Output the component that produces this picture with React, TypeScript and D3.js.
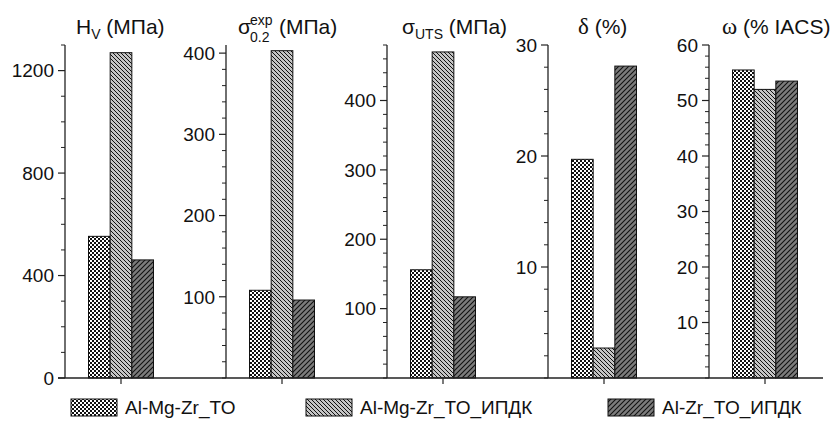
import React from 'react';
import * as d3 from 'd3';

// series (legend order)
const series = ['Al-Mg-Zr_TO', 'Al-Mg-Zr_TO_ИПДК', 'Al-Zr_TO_ИПДК'];

// values per panel
const hvValues = [553, 1270, 461];
const sigma02Values = [108, 403, 96];
const sigmaUtsValues = [156, 470, 117];
const deltaValues = [19.7, 2.7, 28.1];
const omegaValues = [55.5, 52.0, 53.5];

// tick labels per panel
const hvTicks = [0, 400, 800, 1200];
const sigma02Ticks = [100, 200, 300, 400];
const sigmaUtsTicks = [100, 200, 300, 400];
const deltaTicks = [10, 20, 30];
const omegaTicks = [10, 20, 30, 40, 50, 60];

const panels = [
  { values: hvValues, ticks: hvTicks, max: 1300, minor: 100 },
  { values: sigma02Values, ticks: sigma02Ticks, max: 410, minor: 20 },
  { values: sigmaUtsValues, ticks: sigmaUtsTicks, max: 480, minor: 20 },
  { values: deltaValues, ticks: deltaTicks, max: 30, minor: 2 },
  { values: omegaValues, ticks: omegaTicks, max: 60, minor: 2 },
];

const W = 836;
const H = 428;
const top = 45;
const bottom = 378;
const firstAxis = 65;
const panelStep = 161;
const barOffset = 56; // axis -> group centre
const groupWidth = 65;
const font = 'Arial, "Liberation Sans", sans-serif';
const serif = '"Times New Roman", "Liberation Serif", serif';
const fs = 19; // ticks + legend
const tfs = 21; // titles
const sub = 14;

const fills = ['url(#pat-check)', 'url(#pat-back)', 'url(#pat-fwd)'];

const Panel = ({ p, i }: { p: typeof panels[0]; i: number }) => {
  const ax = firstAxis + i * panelStep;
  const cx = ax + barOffset;
  const y = d3.scaleLinear().domain([0, p.max]).range([bottom, top]);
  const x = d3
    .scaleBand<string>()
    .domain(series)
    .range([cx - groupWidth / 2, cx + groupWidth / 2])
    .padding(0);
  const minors = d3.range(0, p.max + 1e-9, p.minor).filter(v => !p.ticks.includes(v));
  return (
    <g>
      {p.values.map((v, k) => (
        <rect
          key={k}
          x={x(series[k])}
          y={y(v)}
          width={x.bandwidth()}
          height={bottom - y(v)}
          fill={fills[k]}
          stroke="#111"
          strokeWidth={1}
        />
      ))}
      <line x1={ax} x2={ax} y1={top} y2={bottom} stroke="#222" strokeWidth={1.3} />
      {minors.map(v => (
        <line key={'m' + v} x1={ax - 4} x2={ax} y1={y(v)} y2={y(v)} stroke="#222" strokeWidth={1} />
      ))}
      {p.ticks.map(v => (
        <g key={'t' + v}>
          <line x1={ax - 7} x2={ax} y1={y(v)} y2={y(v)} stroke="#222" strokeWidth={1.2} />
          <text
            x={ax - 11}
            y={y(v)}
            dy="0.36em"
            textAnchor="end"
            fontSize={fs}
            fontFamily={font}
            fill="#111"
          >
            {v}
          </text>
        </g>
      ))}
      <line x1={cx} x2={cx} y1={bottom} y2={bottom + 6} stroke="#222" strokeWidth={1.2} />
    </g>
  );
};

export default function App() {
  const tf = { fontFamily: font, fontSize: tfs, fill: '#111' };
  const lf = { fontFamily: font, fontSize: fs, fill: '#111' };
  return (
    <svg
      width={W}
      height={H}
      viewBox={`0 0 ${W} ${H}`}
      style={{ position: 'absolute', left: 0, top: 0, background: '#fff' }}
    >
      <defs>
        <pattern id="pat-check" width={4} height={4} patternUnits="userSpaceOnUse">
          <rect width={4} height={4} fill="#fff" />
          <rect width={2} height={2} fill="#111" />
          <rect x={2} y={2} width={2} height={2} fill="#111" />
        </pattern>
        <pattern id="pat-back" width={4} height={4} patternUnits="userSpaceOnUse">
          <rect width={4} height={4} fill="#c4c4c4" />
          <path d="M-1,-1L5,5M-1,3L1,5M3,-1L5,1" stroke="#111" strokeWidth={1} />
        </pattern>
        <pattern id="pat-fwd" width={5} height={5} patternUnits="userSpaceOnUse">
          <rect width={5} height={5} fill="#7c7c7c" />
          <path d="M-1,6L6,-1M-1,1L1,-1M4,6L6,4" stroke="#111" strokeWidth={1.1} />
        </pattern>
      </defs>

      {panels.map((p, i) => (
        <Panel key={i} p={p} i={i} />
      ))}

      {/* shared x baseline */}
      <line x1={firstAxis - 7} x2={823} y1={bottom} y2={bottom} stroke="#222" strokeWidth={1.3} />

      {/* panel titles */}
      <text x={76} y={34} {...tf}>
        H<tspan fontSize={sub} dy={5}>V</tspan>
        <tspan dy={-5}> (МПа)</tspan>
      </text>

      <text x={238} y={34} {...tf}>σ</text>
      <text x={250} y={25} {...tf} fontSize={sub}>exp</text>
      <text x={250} y={42} {...tf} fontSize={sub}>0.2</text>
      <text x={279} y={34} {...tf}>(МПа)</text>

      <text x={402} y={34} {...tf}>
        σ<tspan fontSize={sub} dy={5}>UTS</tspan>
        <tspan dy={-5}> (МПа)</tspan>
      </text>

      <text x={578} y={34} {...tf}>
        <tspan fontFamily={serif} fontSize={23}>δ</tspan> (%)
      </text>

      <text x={722} y={34} {...tf}>
        <tspan fontFamily={serif} fontSize={23}>ω</tspan> (% IACS)
      </text>

      {/* legend */}
      {series.map((s, k) => {
        const lx = [71, 306, 608][k];
        return (
          <g key={s}>
            <rect x={lx} y={399} width={46} height={17} fill={fills[k]} stroke="#111" strokeWidth={1} />
            <text x={lx + 54} y={414} {...lf}>
              {s}
            </text>
          </g>
        );
      })}
    </svg>
  );
}
